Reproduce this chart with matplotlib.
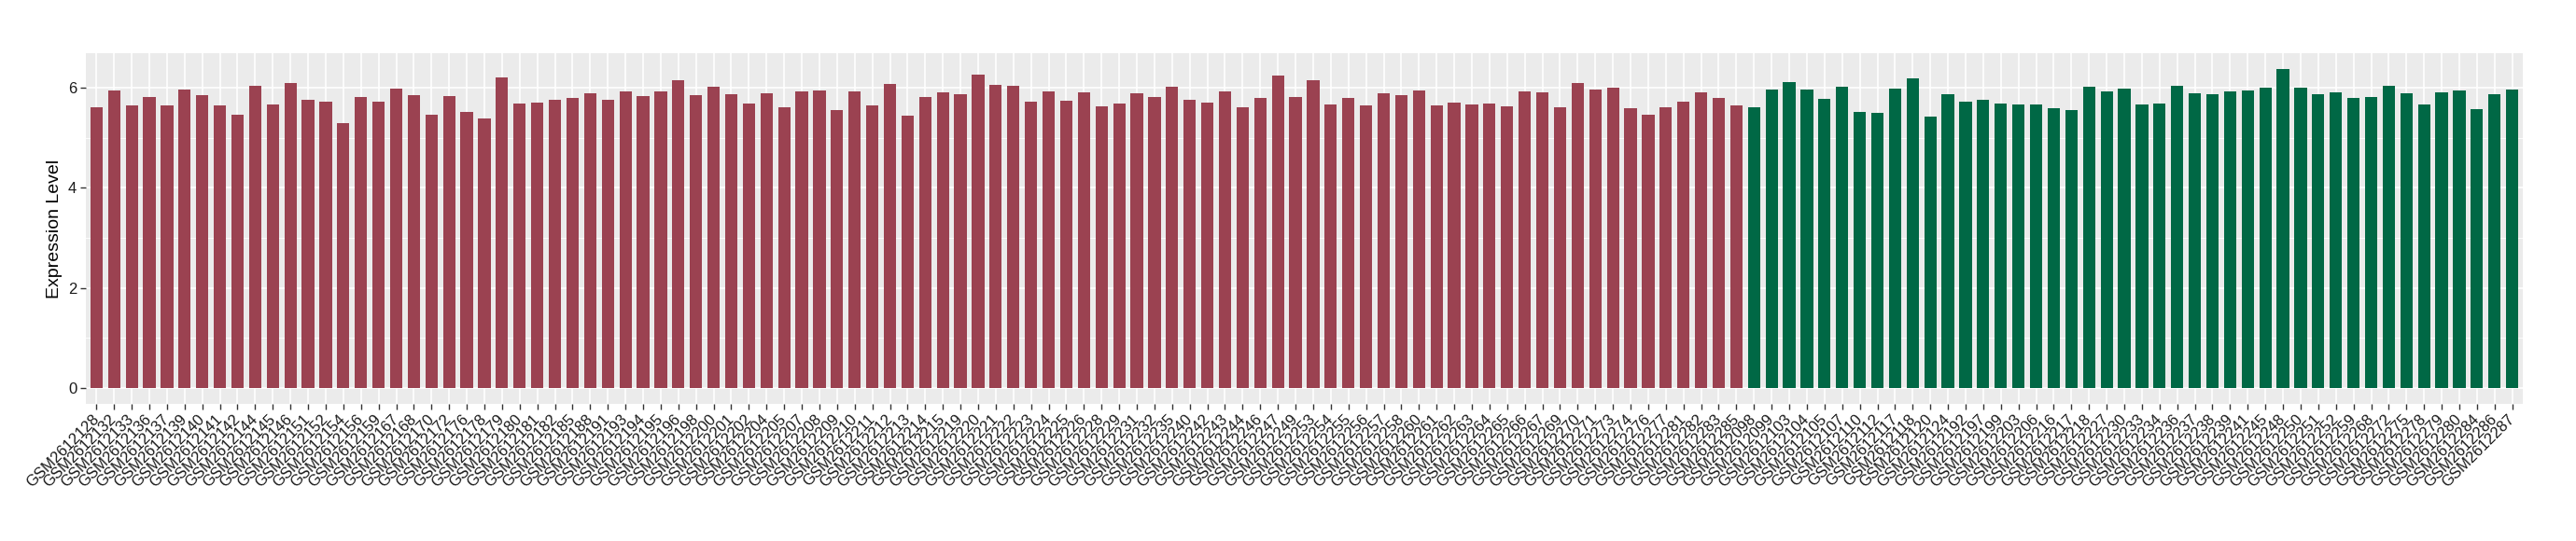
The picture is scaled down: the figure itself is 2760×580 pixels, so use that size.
import matplotlib
matplotlib.use("Agg")
import matplotlib.pyplot as plt
from matplotlib.ticker import MultipleLocator

# ---- data ----
group_a_ids = [
    "2612128", "2612132", "2612133", "2612136", "2612137", "2612139", "2612140", "2612141", "2612142", "2612144",
    "2612145", "2612146", "2612151", "2612152", "2612154", "2612156", "2612159", "2612167", "2612168", "2612170",
    "2612172", "2612176", "2612178", "2612179", "2612180", "2612181", "2612182", "2612185", "2612188", "2612191",
    "2612193", "2612194", "2612195", "2612196", "2612198", "2612200", "2612201", "2612202", "2612204", "2612205",
    "2612207", "2612208", "2612209", "2612210", "2612211", "2612212", "2612213", "2612214", "2612215", "2612219",
    "2612220", "2612221", "2612222", "2612223", "2612224", "2612225", "2612226", "2612228", "2612229", "2612231",
    "2612232", "2612235", "2612240", "2612242", "2612243", "2612244", "2612246", "2612247", "2612249", "2612253",
    "2612254", "2612255", "2612256", "2612257", "2612258", "2612260", "2612261", "2612262", "2612263", "2612264",
    "2612265", "2612266", "2612267", "2612269", "2612270", "2612271", "2612273", "2612274", "2612276", "2612277",
    "2612281", "2612282", "2612283", "2612285",
]
group_a_values = [
    5.61, 5.94, 5.65, 5.81, 5.65, 5.96, 5.85, 5.65, 5.46, 6.04,
    5.67, 6.09, 5.76, 5.72, 5.29, 5.81, 5.72, 5.98, 5.85, 5.46,
    5.83, 5.52, 5.39, 6.20, 5.68, 5.70, 5.76, 5.80, 5.89, 5.76,
    5.93, 5.83, 5.93, 6.15, 5.85, 6.02, 5.87, 5.68, 5.89, 5.61,
    5.93, 5.94, 5.55, 5.93, 5.65, 6.07, 5.44, 5.81, 5.91, 5.87,
    6.26, 6.06, 6.04, 5.72, 5.93, 5.74, 5.91, 5.63, 5.68, 5.89,
    5.81, 6.02, 5.76, 5.70, 5.93, 5.61, 5.80, 6.24, 5.81, 6.15,
    5.67, 5.80, 5.65, 5.89, 5.85, 5.94, 5.65, 5.70, 5.67, 5.68,
    5.63, 5.93, 5.91, 5.61, 6.09, 5.96, 6.00, 5.59, 5.46, 5.61,
    5.72, 5.91, 5.80, 5.65,
]
group_b_ids = [
    "2612098", "2612099", "2612103", "2612104", "2612105", "2612107", "2612110", "2612112", "2612117", "2612118",
    "2612120", "2612124", "2612192", "2612197", "2612199", "2612203", "2612206", "2612216", "2612217", "2612218",
    "2612227", "2612230", "2612233", "2612234", "2612236", "2612237", "2612238", "2612239", "2612241", "2612245",
    "2612248", "2612250", "2612251", "2612252", "2612259", "2612268", "2612272", "2612275", "2612278", "2612279",
    "2612280", "2612284", "2612286", "2612287",
]
group_b_values = [
    5.61, 5.96, 6.11, 5.96, 5.78, 6.02, 5.52, 5.50, 5.98, 6.19,
    5.42, 5.87, 5.72, 5.76, 5.68, 5.67, 5.67, 5.59, 5.55, 6.02,
    5.93, 5.98, 5.67, 5.68, 6.04, 5.89, 5.87, 5.93, 5.94, 6.00,
    6.37, 6.00, 5.87, 5.91, 5.80, 5.81, 6.04, 5.89, 5.67, 5.91,
    5.94, 5.57, 5.87, 5.96,
]
color_a = "#9B4251"
color_b = "#006845"
y_label = "Expression Level"
y_ticks = [0, 2, 4, 6]

# ---- plot ----
labels = ["GSM" + s for s in group_a_ids + group_b_ids]
values = group_a_values + group_b_values
colors = [color_a] * len(group_a_values) + [color_b] * len(group_b_values)
x = list(range(len(values)))

plt.rcParams['font.family'] = ['Liberation Sans', 'DejaVu Sans']

fig = plt.figure(figsize=(27.6, 5.8), dpi=100)
ax = fig.add_axes([92 / 2760, 1 - 433 / 580, (2703 - 92) / 2760, (433 - 57) / 580])
ax.set_facecolor("#EBEBEB")

ax.bar(x, values, width=0.7, color=colors, zorder=3)

vmax = max(values)
ax.set_ylim(-0.05 * vmax, vmax * 1.05)
ax.set_xlim(-0.6, len(values) - 1 + 0.6)

ax.set_yticks(y_ticks)
ax.yaxis.set_minor_locator(MultipleLocator(1))
ax.set_xticks(x)
ax.set_xticklabels(labels, rotation=45, ha="right", va="center", rotation_mode="anchor")

ax.grid(which="major", color="white", linewidth=1.2, zorder=0)
ax.grid(which="minor", axis="y", color="white", linewidth=0.6, zorder=0)
ax.set_axisbelow(True)

for sp in ax.spines.values():
    sp.set_visible(False)

ax.tick_params(axis="both", which="major", length=4, width=1, color="#333333",
               labelsize=12, labelcolor="#1A1A1A", pad=3)
ax.tick_params(axis="y", which="minor", length=0)
ax.tick_params(axis="x", pad=6)

ax.set_ylabel(y_label, fontsize=14, labelpad=4)

fig.savefig("out.png", dpi=100, facecolor="white")
